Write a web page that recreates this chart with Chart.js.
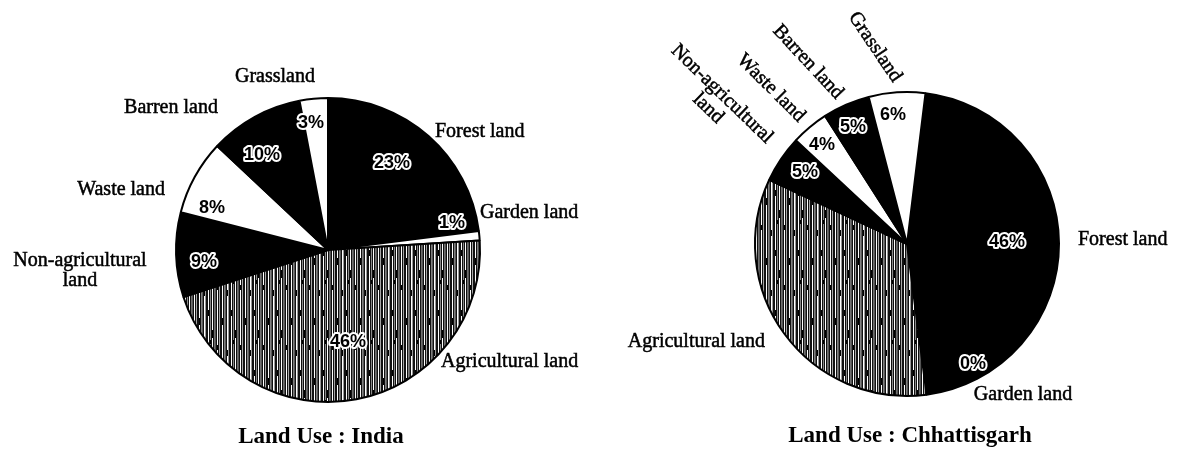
<!DOCTYPE html>
<html>
<head>
<meta charset="utf-8">
<script src="https://cdn.jsdelivr.net/npm/chart.js@4.4.0/dist/chart.umd.min.js"></script>
<style>
html, body { margin: 0; padding: 0; background: #fff; }
#wrap { position: relative; width: 1179px; height: 454px; overflow: hidden; }
#indiaChart { position: absolute; left: 0; top: 0; }
#cgChart { position: absolute; left: 590px; top: 0; }
</style>
</head>
<body>
<div id="wrap">
  <canvas id="indiaChart" width="590" height="454"></canvas>
  <canvas id="cgChart" width="589" height="454"></canvas>
</div>
<script>
// data
const categories = ['Forest land', 'Garden land', 'Agricultural land', 'Non-agricultural land', 'Waste land', 'Barren land', 'Grassland'];
const indiaValues = [23, 1, 46, 9, 8, 10, 3];
const cgValues = [46, 0, 34, 5, 4, 5, 6];
const indiaTitle = 'Land Use : India';
const cgTitle = 'Land Use : Chhattisgarh';

const SERIF = '"Liberation Serif", "Times New Roman", serif';
const SANS = '"Liberation Sans", Arial, sans-serif';

// vertical stripe fill for agricultural land
function makeHatch() {
  const c = document.createElement('canvas');
  c.width = 23; c.height = 60;
  const g = c.getContext('2d');
  g.fillStyle = '#111';
  g.fillRect(0, 0, 23, 60);
  const stripes = [[1, '#fff'], [3, '#8a8a8a'], [5, '#fff'], [7, '#6f6f6f'], [8, '#555'], [10, '#fff'], [12, '#a5a5a5'], [15, '#fff'], [17, '#808080'], [18, '#5a5a5a'], [20, '#fff'], [21, '#999']];
  stripes.forEach(([x, col]) => { g.fillStyle = col; g.fillRect(x, 0, 1, 60); });
  g.fillStyle = '#000';
  [[1, 10, 6], [5, 30, 8], [10, 45, 5], [15, 18, 7], [20, 50, 6], [3, 40, 4]].forEach(([x, y, h]) => g.fillRect(x, y, 1, h));
  return g.createPattern(c, 'repeat');
}
const hatch = makeHatch();
const fills = ['#000', '#fff', hatch, '#000', '#fff', '#000', '#fff'];

// label placement, offsets from the pie centre
const indiaLayout = {
  names: [
    { dx: 107, dy: -118, align: 'left' },
    { dx: 152, dy: -37, align: 'left' },
    { dx: 113, dy: 112, align: 'left' },
    { dx: -248, dy: 11, align: 'center', lines: ['Non-agricultural', 'land'] },
    { dx: -163, dy: -60, align: 'right' },
    { dx: -157, dy: -142, align: 'center' },
    { dx: -53, dy: -173, align: 'center' }
  ],
  pcts: [[64, -87], [124, -27], [20, 92], [-124, 12], [-116, -42], [-66, -95], [-17, -127]],
  title: [-7, 187]
};
const cgLayout = {
  names: [
    { dx: 171, dy: -4, align: 'left' },
    { dx: 116, dy: 151, align: 'center' },
    { dx: -142, dy: 98, align: 'right' },
    { dx: -185, dy: -150, align: 'center', rot: 44, lines: ['Non-agricultural', 'land'] },
    { dx: -136, dy: -156, align: 'center', rot: 45 },
    { dx: -99, dy: -182, align: 'center', rot: 47 },
    { dx: -32, dy: -197, align: 'center', rot: 56 }
  ],
  pcts: [[100, -2], [66, 120], null, [-102, -72], [-85, -99], [-54, -117], [-14, -129]],
  title: [3, 192]
};

function labelPlugin(layout, values, title) {
  return {
    id: 'landLabels',
    afterDraw(chart) {
      const arc = chart.getDatasetMeta(0).data[0];
      const cx = arc.x, cy = arc.y;
      const ctx = chart.ctx;
      ctx.save();
      ctx.fillStyle = '#000';
      ctx.strokeStyle = '#000';
      ctx.textBaseline = 'middle';
      // category names (thin stroke to mimic the heavy print)
      ctx.font = '20px ' + SERIF;
      ctx.lineWidth = 0.5;
      layout.names.forEach((p, i) => {
        const lines = p.lines || [categories[i]];
        ctx.save();
        ctx.translate(cx + p.dx, cy + p.dy);
        if (p.rot) ctx.rotate(p.rot * Math.PI / 180);
        ctx.textAlign = p.align;
        lines.forEach((t, k) => {
          ctx.fillText(t, 0, k * 20);
          ctx.strokeText(t, 0, k * 20);
        });
        ctx.restore();
      });
      // percentages with white halo
      ctx.font = 'bold 18px ' + SANS;
      ctx.textAlign = 'center';
      ctx.lineJoin = 'round';
      ctx.lineWidth = 4;
      ctx.strokeStyle = '#fff';
      layout.pcts.forEach((p, i) => {
        if (!p) return;
        const t = values[i] + '%';
        ctx.strokeText(t, cx + p[0], cy + p[1]);
        ctx.fillText(t, cx + p[0], cy + p[1]);
      });
      // title
      ctx.font = 'bold 23px ' + SERIF;
      ctx.fillText(title, cx + layout.title[0], cy + layout.title[1]);
      ctx.restore();
    }
  };
}

function makePie(id, values, rotation, padding, layout, title) {
  new Chart(document.getElementById(id), {
    type: 'pie',
    data: {
      labels: categories,
      datasets: [{
        data: values,
        backgroundColor: fills,
        borderColor: '#000',
        borderWidth: 2
      }]
    },
    options: {
      responsive: false,
      animation: false,
      rotation: rotation,
      layout: { padding: padding },
      plugins: { legend: { display: false }, tooltip: { enabled: false } }
    },
    plugins: [labelPlugin(layout, values, title)]
  });
}

makePie('indiaChart', indiaValues, 0, { left: 175, right: 109, top: 97, bottom: 51 }, indiaLayout, indiaTitle);
makePie('cgChart', cgValues, 7, { left: 164, right: 119, top: 91, bottom: 57 }, cgLayout, cgTitle);
</script>
</body>
</html>
